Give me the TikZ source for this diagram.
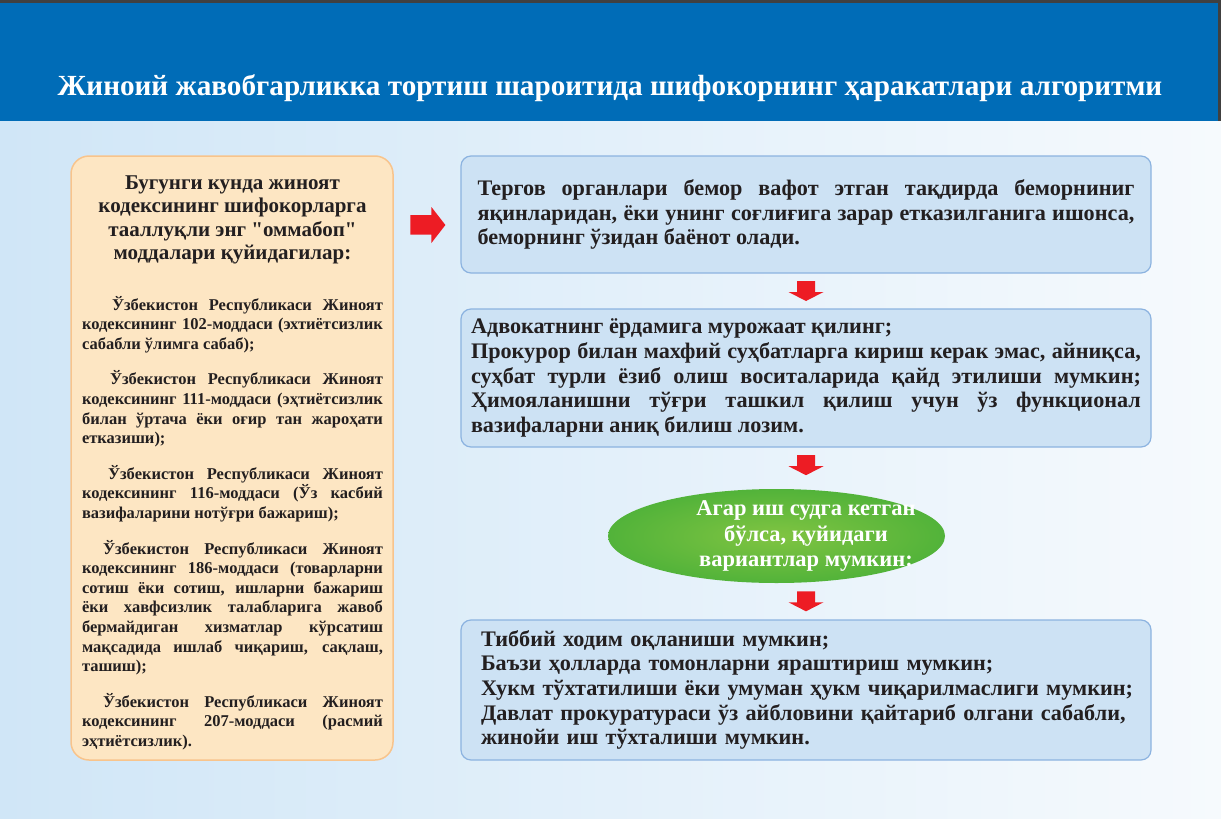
\documentclass[tikz,border=0pt]{standalone}
\usepackage{fontspec}
\setmainfont{Liberation Serif}[Ligatures=TeXOff]
\usetikzlibrary{shapes.geometric,calc}
\definecolor{hdr}{RGB}{0,108,183}
\definecolor{hdrdark}{RGB}{64,64,64}
\definecolor{bgL}{RGB}{208,230,247}
\definecolor{bgR}{RGB}{246,250,253}
\definecolor{peach}{RGB}{253,230,195}
\definecolor{peachline}{RGB}{248,196,140}
\definecolor{bluebox}{RGB}{205,226,244}
\definecolor{blueline}{RGB}{140,179,224}
\definecolor{arrred}{RGB}{237,28,36}
\definecolor{gin}{RGB}{128,196,66}
\definecolor{gout}{RGB}{58,170,53}
\definecolor{ink}{RGB}{35,31,32}
\pgfdeclareradialshading{ellgreen}{\pgfpoint{0bp}{0bp}}{color(0bp)=(gin); color(38bp)=(gout); color(50bp)=(gout)}
\begin{document}
\begin{tikzpicture}[x=1pt,y=-1pt,
  title/.style={text=white,font=\fontsize{29.2}{32}\selectfont\bfseries,inner sep=0pt},
  leftbox/.style={draw=peachline,line width=1.5pt,fill=peach,rounded corners=18pt,
    minimum width=322pt,minimum height=604pt,text width=301pt,align=justify,
    text=ink,inner sep=0pt},
  infobox/.style={draw=blueline,line width=1.2pt,fill=bluebox,rounded corners=10pt,
    minimum width=690pt,text=ink,inner sep=0pt,
    font=\fontsize{22.2}{24.7}\selectfont\bfseries},
  condell/.style={ellipse,shade,shading=ellgreen,draw=none,minimum width=337pt,
    minimum height=94pt,inner sep=0pt},
  condtxt/.style={text=white,align=center,inner sep=0pt,
    font=\fontsize{22.5}{25.5}\selectfont\bfseries},
  downarr/.pic={\fill[arrred] (-9,-10) -- (9,-10) -- (9,1) -- (17.5,1) -- (0,10)
    -- (-17.5,1) -- (-9,1) -- cycle;},
  rightarr/.pic={\fill[arrred] (-17,-10) -- (4,-10) -- (4,-18) -- (18,0) -- (4,18)
    -- (4,9.5) -- (-17,9.5) -- cycle;}
]
\useasboundingbox (0,0) rectangle (1221,819);
\shade[left color=bgL,right color=bgR] (0,0) rectangle (1221,819);
\fill[hdr] (0,3) rectangle (1218,121);
\fill[hdrdark] (0,0) rectangle (1221,3);
\fill[hdrdark] (1218,0) rectangle (1221,121);
\node[title] (title) at (610,88) {Жиноий жавобгарликка тортиш шароитида шифокорнинг ҳаракатлари алгоритми};

\draw[draw=peachline,line width=1.5pt,fill=peach,rounded corners=18pt] (71,156) rectangle (393,760);
\node[text width=301pt,align=justify,text=ink,inner sep=0pt] (codes) at (232.5,463) {\hyphenpenalty=10000\exhyphenpenalty=10000\tolerance=10000
{\fontsize{21}{23.3}\selectfont\bfseries\centering
Бугунги кунда жиноят\\ кодексининг шифокорларга\\ тааллуқли энг "оммабоп"\\ моддалари қуйидагилар:\par}
\vskip 31pt
\fontsize{16.5}{19.6}\selectfont\bfseries
\hspace*{30pt}Ўзбекистон Республикаси Жиноят\linebreak кодексининг 102-моддаси (эхтиётсизлик\linebreak сабабли ўлимга сабаб);\par
\vskip 16pt
\hspace*{28pt}Ўзбекистон Республикаси Жиноят\linebreak кодексининг 111-моддаси (эҳтиётсизлик\linebreak билан ўртача ёки оғир тан жароҳати\linebreak етказиши);\par
\vskip 16pt
\hspace*{26pt}Ўзбекистон Республикаси Жиноят\linebreak кодексининг 116-моддаси (Ўз касбий\linebreak вазифаларини нотўғри бажариш);\par
\vskip 16pt
\hspace*{21pt}Ўзбекистон Республикаси Жиноят\linebreak кодексининг 186-моддаси (товарларни\linebreak сотиш ёки сотиш, ишларни бажариш\linebreak ёки хавфсизлик талабларига жавоб\linebreak бермайдиган хизматлар кўрсатиш\linebreak мақсадида ишлаб чиқариш, сақлаш,\linebreak ташиш);\par
\vskip 16pt
\hspace*{21pt}Ўзбекистон Республикаси Жиноят\linebreak кодексининг 207-моддаси (расмий\linebreak эҳтиётсизлик).\par};

\node[infobox,minimum height=117pt,text width=657pt,align=justify] (b1) at (806,214.5)
{\hyphenpenalty=10000\tolerance=10000 Тергов органлари бемор вафот этган тақдирда беморниниг\linebreak яқинларидан, ёки унинг соғлиғига зарар етказилганига ишонса,\linebreak беморнинг ўзидан баёнот олади.\par};

\node[infobox,minimum height=138pt,text width=670pt,align=justify] (b2) at (806,378)
{\hyphenpenalty=10000\tolerance=10000 Адвокатнинг ёрдамига мурожаат қилинг;\par Прокурор билан махфий суҳбатларга кириш керак эмас, айниқса,\linebreak суҳбат турли ёзиб олиш воситаларида қайд этилиши мумкин;\linebreak Ҳимояланишни тўғри ташкил қилиш учун ўз функционал\linebreak вазифаларни аниқ билиш лозим.\par};

\node[condell] (cond) at (776.5,536) {};
\node[condtxt] (condtext) at (806,536) {Агар иш судга кетган\\ бўлса, қуйидаги\\ вариантлар мумкин:};

\node[infobox,minimum height=140pt,text width=662pt,align=left] (b3) at (806,690)
{\hspace*{6pt}Тиббий ходим оқланиши мумкин;\\ \hspace*{6pt}Баъзи ҳолларда томонларни яраштириш мумкин;\\ \hspace*{6pt}Хукм тўхтатилиши ёки умуман ҳукм чиқарилмаслиги мумкин;\\ \hspace*{6pt}Давлат прокуратураси ўз айбловини қайтариб олгани сабабли,\\ \hspace*{6pt}жинойи иш тўхталиши мумкин.};

\pic at ($(b1.south)!0.5!(b2.north)$) {downarr};
\pic at ($(b2.south)!0.5!(b2.south |- cond.north)+(0,-3)$) {downarr};
\pic at ($(b3.north)!0.5!(b3.north |- cond.south)$) {downarr};
\pic at ($(b1.west)+(-33,10.5)$) {rightarr};
\end{tikzpicture}
\end{document}
